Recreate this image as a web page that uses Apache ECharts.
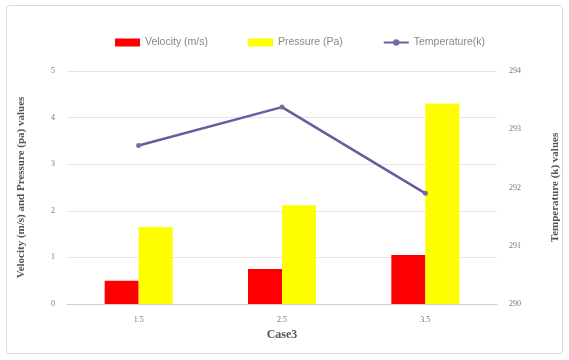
<!DOCTYPE html>
<html>
<head>
<meta charset="utf-8">
<script src="https://cdn.jsdelivr.net/npm/echarts@6/dist/echarts.min.js"></script>
<style>
  html, body { margin: 0; padding: 0; background: #fff; }
  #chart { width: 569px; height: 360px; }
</style>
</head>
<body>
<div id="chart"></div>
<script>
// Case3 measurements per inlet setting
const categories = ['1.5', '2.5', '3.5'];
const velocity = [0.5, 0.75, 1.05];
const pressure = [1.65, 2.12, 4.3];
const temperature = [292.72, 293.38, 291.9];
const leftTicks = [0, 5, 1];
const rightTicks = [290, 294, 1];

const chart = echarts.init(document.getElementById('chart'));
const serif = '"Liberation Serif", "DejaVu Serif", serif';
const tickStyle = { color: '#777', fontSize: 8, fontFamily: serif };

chart.setOption({
  animation: false,
  graphic: [{
    type: 'rect',
    shape: { x: 6.5, y: 5.5, width: 556, height: 348, r: 3 },
    style: { fill: 'none', stroke: '#d9d9d9', lineWidth: 1 },
    silent: true
  }],
  legend: {
    top: 32,
    left: 110,
    itemGap: 40,
    itemWidth: 25,
    itemHeight: 8,
    textStyle: { color: '#888', fontSize: 10.5, fontFamily: '"Liberation Sans", sans-serif' },
    data: [
      { name: 'Velocity (m/s)', icon: 'rect' },
      { name: 'Pressure (Pa)', icon: 'rect' },
      { name: 'Temperature(k)' }
    ]
  },
  grid: { left: 67, right: 68, top: 71, bottom: 56 },
  xAxis: {
    type: 'category',
    data: categories,
    name: 'Case3',
    nameLocation: 'middle',
    nameGap: 20,
    nameTextStyle: { color: '#555', fontSize: 12, fontWeight: 'bold', fontFamily: serif },
    axisLine: { lineStyle: { color: '#d0d0d0' } },
    axisTick: { show: false },
    axisLabel: Object.assign({ margin: 12 }, tickStyle)
  },
  yAxis: [{
    type: 'value',
    min: leftTicks[0], max: leftTicks[1], interval: leftTicks[2],
    name: 'Velocity (m/s) and Pressure (pa) values',
    nameLocation: 'middle',
    nameGap: 40,
    nameTextStyle: { color: '#555', fontSize: 11, fontWeight: 'bold', fontFamily: serif },
    axisLine: { show: false },
    axisTick: { show: false },
    axisLabel: Object.assign({ margin: 12 }, tickStyle),
    splitLine: { lineStyle: { color: '#e4e4e4' } }
  }, {
    type: 'value',
    min: rightTicks[0], max: rightTicks[1], interval: rightTicks[2],
    name: 'Temperature (k) values',
    nameLocation: 'middle',
    nameGap: 53,
    nameRotate: 90,
    nameTextStyle: { color: '#555', fontSize: 11, fontWeight: 'bold', fontFamily: serif },
    axisLine: { show: false },
    axisTick: { show: false },
    axisLabel: Object.assign({ margin: 12 }, tickStyle),
    splitLine: { show: false }
  }],
  series: [{
    name: 'Velocity (m/s)',
    type: 'bar',
    data: velocity,
    barWidth: 34,
    barGap: '0%',
    itemStyle: { color: '#ff0000' }
  }, {
    name: 'Pressure (Pa)',
    type: 'bar',
    data: pressure,
    barWidth: 34,
    itemStyle: { color: '#ffff00' }
  }, {
    name: 'Temperature(k)',
    type: 'line',
    yAxisIndex: 1,
    data: temperature,
    symbol: 'circle',
    symbolSize: 5,
    lineStyle: { color: '#6b5b9e', width: 2.5 },
    itemStyle: { color: '#7a6aa8' }
  }]
});
</script>
</body>
</html>
